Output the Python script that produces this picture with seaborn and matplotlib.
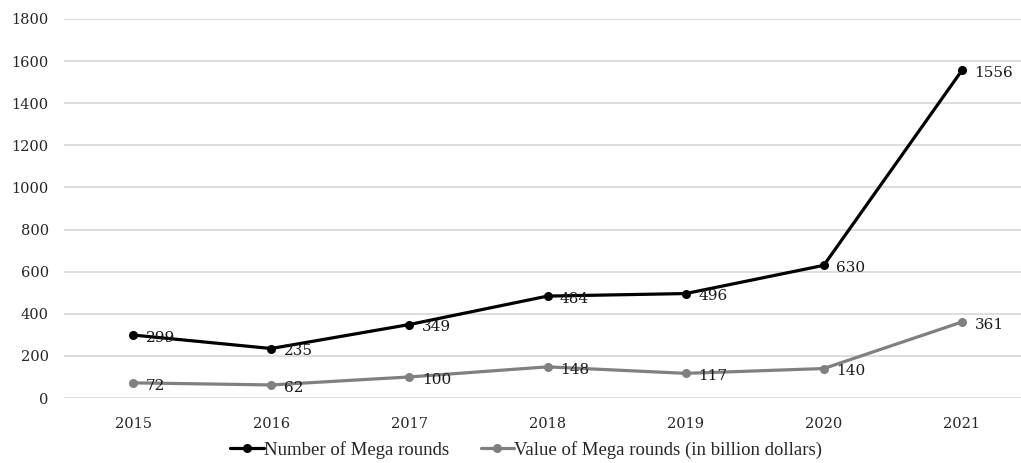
import matplotlib
matplotlib.use("Agg")
import matplotlib.pyplot as plt
import seaborn as sns
import pandas as pd

years = ["2015", "2016", "2017", "2018", "2019", "2020", "2021"]
mega_rounds_count = [299, 235, 349, 484, 496, 630, 1556]
mega_rounds_value = [72, 62, 100, 148, 117, 140, 361]
series_names = ["Number of Mega rounds", "Value of Mega rounds (in billion dollars)"]
series_colors = ["#000000", "#808080"]

df = pd.concat([
    pd.DataFrame({"Year": years, "Value": mega_rounds_count, "Series": series_names[0]}),
    pd.DataFrame({"Year": years, "Value": mega_rounds_value, "Series": series_names[1]}),
])

sns.set_theme(style="white")
plt.rcParams["font.family"] = ["DejaVu Serif"]

fig = plt.figure(figsize=(10.21, 4.63), dpi=100)
ax = fig.add_axes([64 / 1021, 65 / 463, 967 / 1021, 379 / 463])

sns.lineplot(
    data=df, x="Year", y="Value", hue="Series", palette=series_colors,
    marker="o", markersize=6.5, markeredgewidth=0, linewidth=2.3,
    sort=False, ax=ax, legend=True,
)

ax.set_xlim(-0.5, 6.5)
ax.set_ylim(0, 1800)
ax.set_yticks(range(0, 1801, 200))
ax.yaxis.grid(True, color="#d4d4d4", linewidth=1.1)
ax.xaxis.grid(False)
ax.set_axisbelow(True)
for side in ["top", "right", "left", "bottom"]:
    ax.spines[side].set_visible(False)
ax.tick_params(axis="both", length=0, labelsize=10.5, colors="#262626")
ax.tick_params(axis="y", pad=11)
ax.tick_params(axis="x", pad=14)
ax.set_xlabel("")
ax.set_ylabel("")

# value labels to the right of each point
for vals in (mega_rounds_count, mega_rounds_value):
    for i, v in enumerate(vals):
        ax.annotate(str(v), xy=(i, v), xytext=(9, -2), textcoords="offset points",
                    ha="left", va="center", fontsize=11, color="#1a1a1a")

handles, labels = ax.get_legend_handles_labels()
ax.legend_.remove()
fig.legend(handles, labels, loc="center", bbox_to_anchor=(526 / 1021, 1 - 450 / 463),
           ncol=2, frameon=False, handlelength=1.8, handletextpad=0.0, columnspacing=1.7,
           prop={"family": "Liberation Serif", "size": 13.5})

fig.savefig("out.png", dpi=100)
